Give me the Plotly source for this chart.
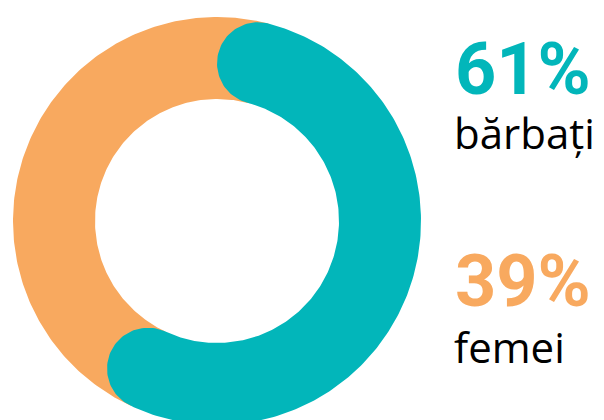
import numpy as np
import plotly.graph_objects as go

# ---- data ----
categories = ["bărbați", "femei"]
values = [61, 39]
pct_labels = ["61%", "39%"]
colors = ["#02B6BA", "#F8A95F"]

# ---- geometry / style (screen-pixel units) ----
W, H = 604, 420
OFF = 8  # page body margin
CX, CY = 217, 221
R_OUT, R_IN = 204, 122
R_MID = (R_OUT + R_IN) / 2
HALF = (R_OUT - R_IN) / 2
CAP = np.degrees(np.arcsin(HALF / R_MID))  # angular size of a rounded cap


def pt(theta_deg, r):
    t = np.radians(theta_deg)
    return CX + r * np.sin(t), CY - r * np.cos(t)


def sector(a0, a1, n=200):
    th = np.linspace(a0, a1, n)
    xo, yo = pt(th, R_OUT)
    xi, yi = pt(th[::-1], R_IN)
    return np.r_[xo, xi, xo[0]], np.r_[yo, yi, yo[0]]


def rounded_band(a0, a1, n=200):
    b0, b1 = a0 + CAP, a1 - CAP
    th = np.linspace(b0, b1, n)
    xo, yo = pt(th, R_OUT)
    ph = np.linspace(0, np.pi, 60)
    # end cap
    t1 = np.radians(b1)
    c1x, c1y = pt(b1, R_MID)
    ur = np.array([np.sin(t1), -np.cos(t1)])
    tg = np.array([np.cos(t1), np.sin(t1)])
    e_x = c1x + HALF * (np.cos(ph) * ur[0] + np.sin(ph) * tg[0])
    e_y = c1y + HALF * (np.cos(ph) * ur[1] + np.sin(ph) * tg[1])
    xi, yi = pt(th[::-1], R_IN)
    # start cap
    t0 = np.radians(b0)
    c0x, c0y = pt(b0, R_MID)
    ur0 = np.array([np.sin(t0), -np.cos(t0)])
    tg0 = np.array([np.cos(t0), np.sin(t0)])
    s_x = c0x + HALF * (-np.cos(ph) * ur0[0] - np.sin(ph) * tg0[0])
    s_y = c0y + HALF * (-np.cos(ph) * ur0[1] - np.sin(ph) * tg0[1])
    return np.r_[xo, e_x, xi, s_x], np.r_[yo, e_y, yi, s_y]


total = sum(values)
ends = np.cumsum(values) / total * 360
starts = np.r_[0, ends[:-1]]

fig = go.Figure()
# second slice (femei): plain sector, extended under the rounded caps of the first
x, y = sector(starts[1] - CAP, ends[1] + CAP)
fig.add_trace(go.Scatter(x=x, y=y, fill="toself", fillcolor=colors[1], mode="lines",
                         line=dict(width=0, color=colors[1]), name=categories[1],
                         hoverinfo="name"))
# first slice (bărbați): rounded band
x, y = rounded_band(starts[0], ends[0])
fig.add_trace(go.Scatter(x=x, y=y, fill="toself", fillcolor=colors[0], mode="lines",
                         line=dict(width=0, color=colors[0]), name=categories[0],
                         hoverinfo="name"))

TX = 452
pct_tops = [25, 237]
lab_tops = [102, 316]
for i in range(2):
    fig.add_annotation(x=TX + 1, y=pct_tops[i], xref="x", yref="y", xanchor="left", yanchor="top",
                       text="<b>%s</b>" % pct_labels[i], showarrow=False,
                       font=dict(family="Roboto", size=72, color=colors[i]))
    fig.add_annotation(x=TX, y=lab_tops[i], xref="x", yref="y", xanchor="left", yanchor="top",
                       text=categories[i], showarrow=False,
                       font=dict(family="Open Sans", size=42, color="#000000"))

fig.update_layout(width=W, height=H, margin=dict(l=0, r=0, t=0, b=0),
                  paper_bgcolor="white", plot_bgcolor="white", showlegend=False,
                  xaxis=dict(range=[OFF, W + OFF], visible=False, fixedrange=True),
                  yaxis=dict(range=[H + OFF, OFF], visible=False, fixedrange=True))
fig.write_html("out.html")
